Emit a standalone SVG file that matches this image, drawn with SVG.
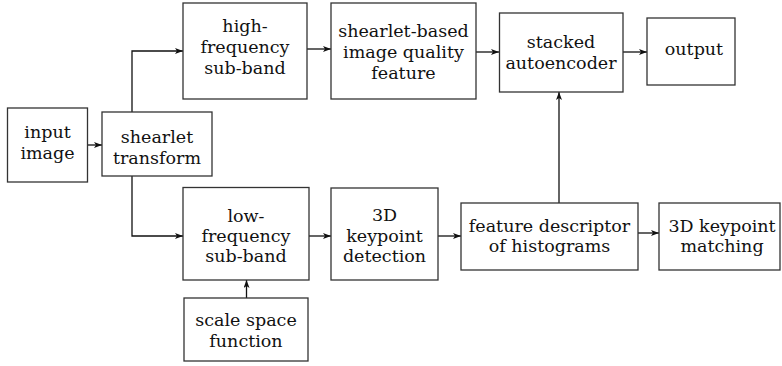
<svg xmlns="http://www.w3.org/2000/svg" width="782" height="366" viewBox="0 0 782 366">
  <style>
    .box { fill: #ffffff; stroke: #333333; stroke-width: 1.3; }
    .lbl { font-family: "DejaVu Serif", "Liberation Serif", serif; font-size: 17.5px; fill: #111111; text-anchor: middle; }
    .wire { fill: none; stroke: #111111; stroke-width: 1.3; marker-end: url(#head); }
  </style>
  <defs>
    <marker id="head" markerUnits="userSpaceOnUse" markerWidth="10" markerHeight="8" refX="8" refY="3" orient="auto">
      <path d="M0,0 L8,3 L0,6 L2,3 Z" fill="#111111"/>
    </marker>
  </defs>
  <rect width="782" height="366" fill="#ffffff"/>

  <g id="connectors">
    <path class="wire" d="M88,145 H102"/>
    <path class="wire" d="M132,112 V51 H183"/>
    <path class="wire" d="M132,176 V236 H183"/>
    <path class="wire" d="M307,49 H331"/>
    <path class="wire" d="M476,52 H499"/>
    <path class="wire" d="M623,52 H647"/>
    <path class="wire" d="M309,236 H331"/>
    <path class="wire" d="M246.5,298 V280"/>
    <path class="wire" d="M438,236 H461"/>
    <path class="wire" d="M559,203 V92"/>
    <path class="wire" d="M638,233 H659"/>
  </g>

  <g id="input-image">
    <rect class="box" x="7.5" y="108" width="80" height="74"/>
    <text class="lbl" x="47.5" y="138">input</text>
    <text class="lbl" x="47.5" y="159">image</text>
  </g>

  <g id="shearlet-transform">
    <rect class="box" x="102" y="112" width="110" height="64"/>
    <text class="lbl" x="157" y="143">shearlet</text>
    <text class="lbl" x="157" y="164">transform</text>
  </g>

  <g id="high-frequency-sub-band">
    <rect class="box" x="183" y="3" width="124" height="96"/>
    <text class="lbl" x="245" y="32">high-</text>
    <text class="lbl" x="245" y="53">frequency</text>
    <text class="lbl" x="245" y="74">sub-band</text>
  </g>

  <g id="shearlet-based-feature">
    <rect class="box" x="331" y="3" width="145" height="96"/>
    <text class="lbl" x="403.5" y="37">shearlet-based</text>
    <text class="lbl" x="403.5" y="58">image quality</text>
    <text class="lbl" x="403.5" y="79">feature</text>
  </g>

  <g id="stacked-autoencoder">
    <rect class="box" x="499.5" y="13" width="123.5" height="79"/>
    <text class="lbl" x="561" y="48">stacked</text>
    <text class="lbl" x="561" y="69">autoencoder</text>
  </g>

  <g id="output">
    <rect class="box" x="647" y="18" width="88" height="67"/>
    <text class="lbl" x="694" y="55">output</text>
  </g>

  <g id="low-frequency-sub-band">
    <rect class="box" x="183" y="187.5" width="126" height="92.5"/>
    <text class="lbl" x="246" y="222">low-</text>
    <text class="lbl" x="246" y="242">frequency</text>
    <text class="lbl" x="246" y="262">sub-band</text>
  </g>

  <g id="scale-space-function">
    <rect class="box" x="184" y="298" width="124" height="63"/>
    <text class="lbl" x="246" y="326">scale space</text>
    <text class="lbl" x="246" y="347">function</text>
  </g>

  <g id="keypoint-detection">
    <rect class="box" x="331" y="188" width="107" height="92"/>
    <text class="lbl" x="384.5" y="221">3D</text>
    <text class="lbl" x="384.5" y="242">keypoint</text>
    <text class="lbl" x="384.5" y="262">detection</text>
  </g>

  <g id="feature-descriptor">
    <rect class="box" x="461" y="203" width="177" height="67"/>
    <text class="lbl" x="549.5" y="232">feature descriptor</text>
    <text class="lbl" x="549.5" y="252">of histograms</text>
  </g>

  <g id="keypoint-matching">
    <rect class="box" x="659" y="203" width="121" height="67"/>
    <text class="lbl" x="722" y="232">3D keypoint</text>
    <text class="lbl" x="722" y="252">matching</text>
  </g>
</svg>
